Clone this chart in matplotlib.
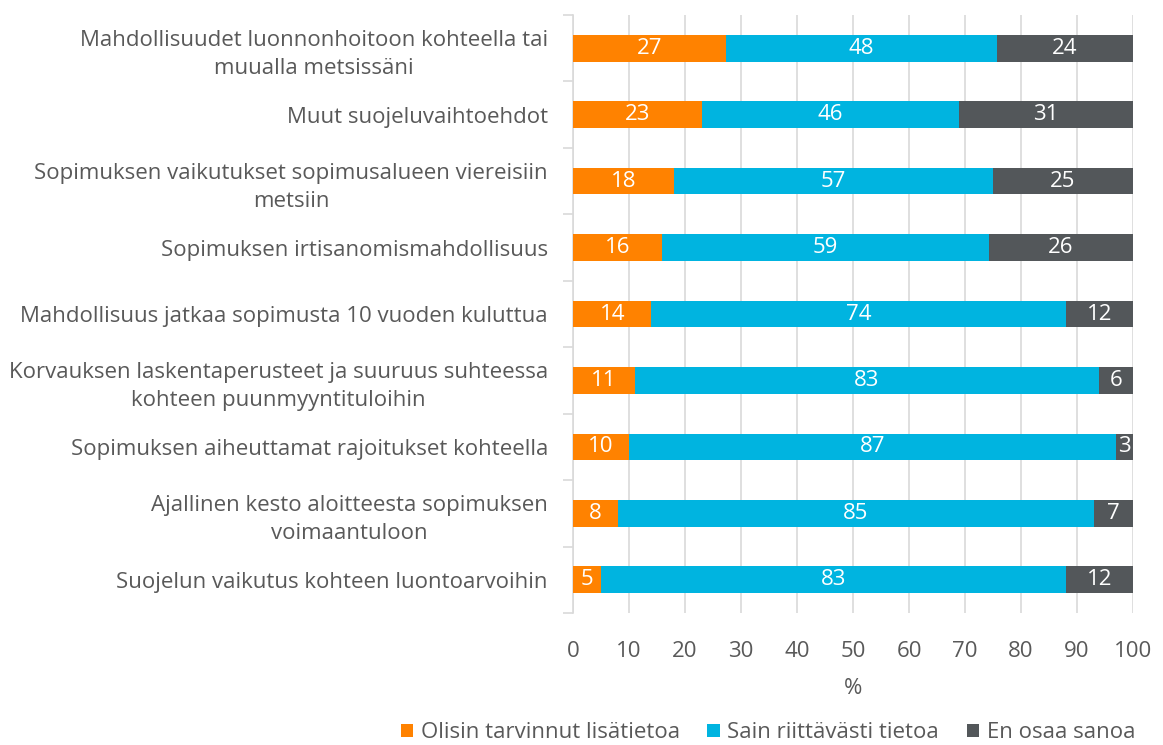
import numpy as np
import matplotlib
matplotlib.use("Agg")
import matplotlib.pyplot as plt
from matplotlib.patches import Patch

# -----------------------------
# Data (top to bottom)
# -----------------------------
categories = [
    "Mahdollisuudet luonnonhoitoon kohteella tai\nmuualla metsissäni",
    "Muut suojeluvaihtoehdot",
    "Sopimuksen vaikutukset sopimusalueen viereisiin\nmetsiin",
    "Sopimuksen irtisanomismahdollisuus",
    "Mahdollisuus jatkaa sopimusta 10 vuoden kuluttua",
    "Korvauksen laskentaperusteet ja suuruus suhteessa\nkohteen puunmyyntituloihin",
    "Sopimuksen aiheuttamat rajoitukset kohteella",
    "Ajallinen kesto aloitteesta sopimuksen\nvoimaantuloon",
    "Suojelun vaikutus kohteen luontoarvoihin",
]
need_more = [27, 23, 18, 16, 14, 11, 10, 8, 5]
enough = [48, 46, 57, 59, 74, 83, 87, 85, 83]
dont_know = [24, 31, 25, 26, 12, 6, 3, 7, 12]

series_names = ["Olisin tarvinnut lisätietoa", "Sain riittävästi tietoa", "En osaa sanoa"]
colors = ["#FF8200", "#00B4E0", "#53575A"]
text_color = "#595959"
fs = 16

plt.rcParams["font.family"] = ["Open Sans", "DejaVu Sans"]

# 100 % stacked: normalise each row
raw = np.array([need_more, enough, dont_know], dtype=float)
shares = raw / raw.sum(axis=0) * 100

fig = plt.figure(figsize=(11.63, 7.45), dpi=100)
ax = fig.add_axes([573 / 1163, (745 - 613) / 745, 560 / 1163, 598 / 745])

y = np.arange(len(categories))
left = np.zeros(len(categories))
for i in range(3):
    ax.barh(y, shares[i], left=left, height=0.4, color=colors[i], zorder=3)
    for yy, l, w, v in zip(y, left, shares[i], raw[i]):
        ax.text(l + w / 2, yy, f"{int(v)}", ha="center", va="center",
                color="white", fontsize=fs, zorder=4)
    left += shares[i]

ax.set_xlim(0, 100)
ax.set_ylim(len(categories) - 0.5, -0.5)
ax.set_xticks(np.arange(0, 101, 10))
ax.set_yticks(y)
ax.set_yticklabels(categories, multialignment="center", linespacing=1.45)
ax.set_yticks(np.arange(-0.5, len(categories), 1), minor=True)

ax.tick_params(axis="y", which="major", length=0, pad=18, labelsize=fs,
               labelcolor=text_color)
ax.tick_params(axis="y", which="minor", length=7.5, color="#D9D9D9", width=1.2)
ax.tick_params(axis="x", length=0, pad=20, labelsize=fs, labelcolor=text_color)

ax.grid(axis="x", color="#D9D9D9", linewidth=1.2, zorder=0)
for side in ["top", "right", "bottom"]:
    ax.spines[side].set_visible(False)
ax.spines["left"].set_color("#D9D9D9")
ax.spines["left"].set_linewidth(1.2)

ax.set_xlabel("%", fontsize=fs, color=text_color, labelpad=12)

handles = [Patch(facecolor=c) for c in colors]
fig.legend(handles, series_names, loc="center", ncol=3,
           bbox_to_anchor=(768 / 1163, 12 / 745), frameon=False,
           fontsize=fs, labelcolor=text_color, handlelength=0.55,
           handleheight=0.55, handletextpad=0.35, columnspacing=1.25)

fig.savefig("out.png", dpi=100)
